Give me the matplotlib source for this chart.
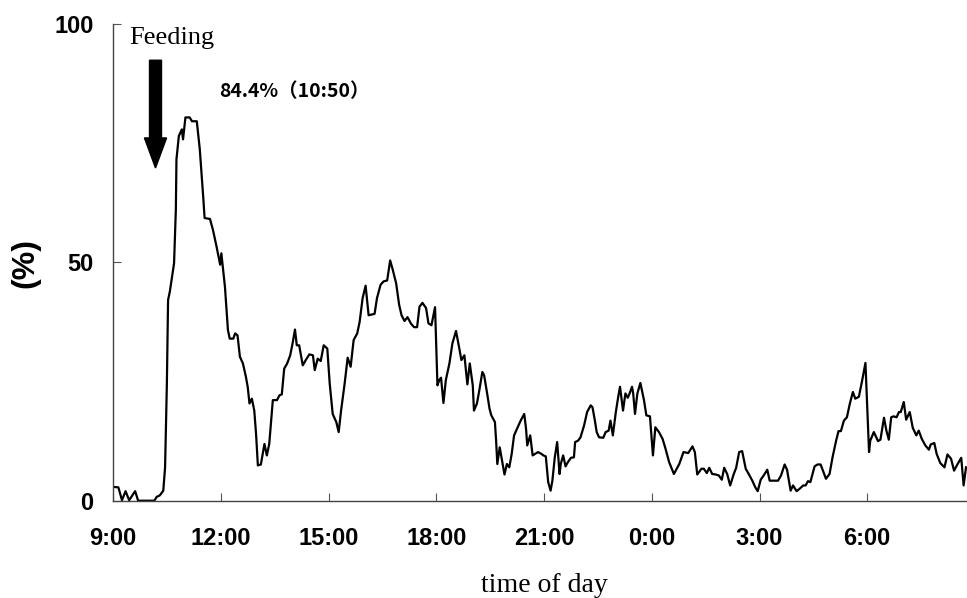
import matplotlib
matplotlib.use("Agg")
import matplotlib.pyplot as plt

# minutes after 9:00 and % of fish at the surface
t_min = [0, 9, 15, 21, 27, 37, 42, 69, 73, 78, 84, 87, 90, 92, 95, 102, 105, 106, 110, 115,
         117, 121, 128, 132, 140, 145, 151, 153, 162, 167, 173, 179, 181, 187, 192, 195, 201, 204, 208, 212,
         217, 222, 225, 228, 232, 236, 239, 242, 247, 253, 257, 261, 267, 274, 278, 282, 286, 291, 296, 300,
         304, 307, 311, 317, 322, 328, 334, 337, 342, 347, 352, 358, 362, 367, 373, 377, 381, 387, 392, 397,
         402, 408, 412,
         417, 422, 427, 437, 441, 447, 452, 458, 463, 467, 473, 478, 482, 487, 492, 498, 503, 508, 512, 517,
         523, 527, 532, 538, 539, 542, 545, 548, 552, 556, 562, 567, 573, 578, 582, 587, 592, 596, 601, 603,
         608, 612,
         617, 620, 625, 629, 632, 638, 640, 642, 646, 649, 654, 658, 662, 666, 670, 675, 681, 687, 690, 692,
         697, 701, 705, 710, 716, 719, 723, 727, 731, 734, 738, 742, 746, 748, 752, 756, 760, 765, 770, 772,
         777, 781, 787, 792, 798, 801, 805, 808, 812,
         819, 823, 828, 831, 835, 840, 844, 847, 852, 856, 860, 863, 867, 869, 872, 876, 881, 887, 891, 897,
         902, 906, 912, 918, 923, 929, 937, 946, 953, 961, 968, 972, 976, 983, 987, 992, 996, 1001, 1007, 1012,
         1017, 1021, 1026, 1031, 1037, 1041, 1046, 1051, 1057, 1062, 1068, 1073, 1077, 1082, 1087, 1093, 1097,
         1104, 1111, 1116, 1122, 1126, 1132, 1136, 1142, 1147, 1153, 1157, 1161, 1165, 1172, 1177, 1182, 1186,
         1191, 1197, 1202, 1205, 1208, 1212,
         1216, 1221, 1226, 1231, 1236, 1240, 1246, 1251, 1257, 1263, 1265, 1271, 1278, 1282, 1288, 1292, 1296,
         1300, 1304, 1309, 1313, 1316, 1321, 1325, 1331, 1336, 1342, 1346, 1351, 1357, 1363, 1366, 1372, 1376,
         1382, 1389, 1394, 1400, 1405, 1411, 1417, 1421, 1425]

pct = [2.9, 2.8, 0.1, 2.0, 0.1, 2.0, 0, 0, 0.8, 1.1, 2.1, 7.0, 24.6, 42.1, 43.9, 49.8, 61.1, 71.6, 76.5, 77.9,
       75.8, 80.4, 80.4, 79.6, 79.6, 73.7, 63.2, 59.3, 59.1, 56.8, 53.3, 49.5, 51.9, 44.9, 35.8, 34.0, 34.0, 35.1, 34.7, 30.2,
       28.8, 26.0, 23.9, 20.4, 21.4, 18.9, 14.0, 7.4, 7.6, 11.9, 9.5, 11.9, 21.1, 21.1, 22.1, 22.3, 27.7, 28.8, 30.5, 33.0,
       35.9, 32.6, 32.6, 28.4, 29.5, 30.7, 30.5, 27.4, 29.8, 29.3, 32.6, 31.9, 24.6, 18.2, 16.5, 14.4, 18.9, 24.6, 30.0, 28.1,
       33.7, 35.1, 37.5,
       42.5, 45.1, 38.9, 39.2, 42.5, 45.3, 46.0, 46.2, 50.4, 48.6, 45.6, 41.1, 38.9, 37.7, 38.5, 37.1, 36.4, 36.4, 40.7, 41.5,
       40.4, 37.2, 36.8, 40.6, 36.5, 24.2, 25.3, 25.8, 20.5, 25.3, 28.8, 33.0, 35.6, 32.3, 29.5, 30.5, 24.4, 28.8, 24.2, 18.9,
       20.4, 23.2,
       27.0, 26.3, 22.5, 19.3, 17.9, 16.5, 12.6, 7.7, 11.2, 9.1, 5.5, 7.7, 7.0, 9.8, 13.7, 15.1, 16.8, 18.2, 15.1, 11.6,
       13.7, 9.5, 9.8, 10.2, 9.8, 9.5, 9.3, 3.9, 2.1, 4.2, 9.1, 12.3, 5.6, 7.7, 9.5, 7.2, 8.1, 9.0, 9.1, 12.3,
       12.6, 13.3, 15.8, 18.6, 20.0, 19.6, 16.8, 14.4, 13.3,
       13.2, 14.4, 14.7, 16.8, 13.7, 18.6, 21.8, 23.9, 18.9, 22.5, 21.6, 22.5, 23.9, 22.5, 18.2, 22.5, 24.7, 21.1, 17.9, 17.7,
       9.5, 15.4, 14.4, 13.0, 10.9, 8.1, 5.6, 7.7, 10.2, 10.0, 11.4, 10.2, 5.5, 6.7, 6.7, 5.8, 6.9, 5.6, 5.5, 5.3,
       4.4, 6.9, 5.6, 3.2, 5.6, 6.9, 10.2, 10.4, 6.7, 5.6, 4.2, 2.8, 2.0, 4.4, 5.3, 6.5, 4.2,
       4.2, 4.2, 5.3, 7.6, 6.5, 2.1, 3.2, 2.0, 2.5, 3.2, 3.2, 4.1, 3.9, 7.2, 7.6, 7.6, 6.3,
       4.6, 5.6, 9.1, 10.9, 12.6, 14.6,
       14.6, 16.8, 17.5, 20.4, 22.8, 21.4, 21.8, 24.9, 28.9, 10.2, 12.6, 14.4, 12.5, 12.8, 17.4, 14.7, 12.8,
       17.5, 17.7, 17.5, 18.6, 18.6, 20.7, 17.0, 18.6, 15.3, 13.7, 14.7, 13.0, 11.6, 10.7, 11.8, 12.1, 9.8,
       7.9, 7.0, 9.7, 8.8, 6.3, 7.7, 9.0, 3.2, 7.0]

tick_min = [0, 180, 360, 540, 720, 900, 1080, 1260]
tick_labels = ["9:00", "12:00", "15:00", "18:00", "21:00", "0:00", "3:00", "6:00"]
feeding_min = 71
peak_label = "84.4%（10:50）"

fig = plt.figure(figsize=(9.67, 5.98), dpi=100)
ax = fig.add_axes([113 / 967, 97.3 / 598, 862 / 967, 476.7 / 598])

ax.plot(t_min, pct, color="black", lw=1.6)
ax.set_xlim(0, 1440)
ax.set_ylim(0, 100)

ax.set_xticks(tick_min)
ax.set_xticklabels(tick_labels)
ax.set_yticks([0, 50, 100])
for lab in ax.get_xticklabels() + ax.get_yticklabels():
    lab.set_fontfamily("Liberation Sans")
    lab.set_fontsize(17)
    lab.set_fontweight("bold")
ax.tick_params(axis="both", direction="in", length=6, width=0.8, color="#555555")
ax.tick_params(axis="x", pad=19)
ax.tick_params(axis="y", pad=14)

for s in ["top", "right"]:
    ax.spines[s].set_visible(False)
for s in ["left", "bottom"]:
    ax.spines[s].set_color("#444444")
    ax.spines[s].set_linewidth(1.0)

# feeding arrow and labels
ax.arrow(feeding_min, 92.4, 0, -22.6, width=20, head_width=37, head_length=6.3,
         length_includes_head=True, color="black", clip_on=False)
ax.text(27, 95.9, "Feeding", fontfamily="Liberation Serif", fontsize=19,
        ha="left", va="baseline", clip_on=False)
ax.text(177, 84.7, peak_label, fontfamily=["Noto Sans CJK JP", "DejaVu Sans"], fontsize=14,
        fontweight="bold", ha="left", va="baseline")

fig.text(25 / 967, 1 - 263 / 598, "(%)", fontfamily="Liberation Sans", fontsize=23,
         fontweight="bold", rotation=90, ha="center", va="center")
fig.text(544 / 967, 1 - 585 / 598, "time of day", fontfamily="Liberation Serif", fontsize=20,
         ha="center", va="center")

fig.savefig("out.png", dpi=100)
